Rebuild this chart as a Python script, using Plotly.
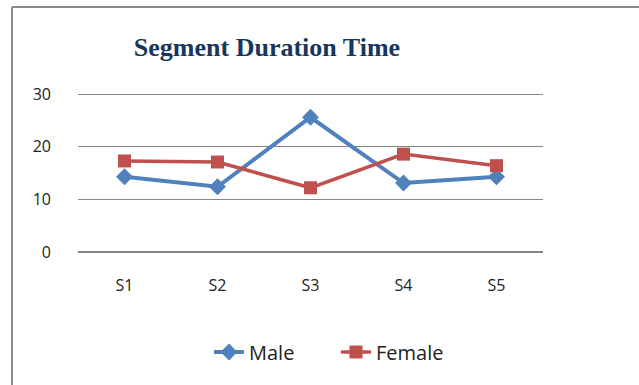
import plotly.graph_objects as go

categories = ["S1", "S2", "S3", "S4", "S5"]
male = [14.3, 12.4, 25.6, 13.1, 14.3]
female = [17.3, 17.1, 12.2, 18.6, 16.4]
y_ticks = [0, 10, 20, 30]

W, H = 639, 385
L, R, T, B = 78, 96, 92, 133
pw, ph = W - L - R, H - T - B

fig = go.Figure()
fig.add_trace(go.Scatter(
    x=categories, y=male, name="Male", mode="lines+markers",
    line=dict(color="#4F81BD", width=4),
    marker=dict(symbol="diamond", size=13, color="#4F81BD"),
))
fig.add_trace(go.Scatter(
    x=categories, y=female, name="Female", mode="lines+markers",
    line=dict(color="#C0504D", width=3.5),
    marker=dict(symbol="square", size=13, color="#C0504D"),
))

def px_x(x):
    return (x - L) / pw

def px_y(y):
    return (H - B - y) / ph

fig.update_layout(
    width=W, height=H,
    margin=dict(l=L, r=R, t=T, b=B, autoexpand=False),
    paper_bgcolor="white", plot_bgcolor="white",
    title=dict(text="<b>Segment Duration Time</b>", xref="paper", x=px_x(267), xanchor="center",
               yref="container", y=1 - 47 / H, yanchor="middle",
               font=dict(family="Liberation Serif", size=26, color="#17365D")),
    xaxis=dict(showgrid=False, showline=False, zeroline=False,
               tickfont=dict(family="Open Sans", size=16, color="#222"),
               ticklabelstandoff=22, range=[-0.5, 4.5]),
    yaxis=dict(range=[0, 30.4], tickvals=y_ticks, showgrid=True, gridcolor="#868686",
               gridwidth=1, zeroline=True, zerolinecolor="#868686", zerolinewidth=2,
               showline=False,
               tickfont=dict(family="Open Sans", size=16, color="#222"),
               ticklabelstandoff=26),
    legend=dict(orientation="h", xref="paper", yref="paper", x=px_x(336), y=px_y(352),
                xanchor="center", yanchor="middle",
                font=dict(family="Open Sans", size=20, color="#222"),
                entrywidth=82,
                bgcolor="rgba(0,0,0,0)"),
    showlegend=True,
    shapes=[
        dict(type="line", xref="paper", yref="paper", x0=px_x(12), x1=px_x(W + 5),
             y0=px_y(7), y1=px_y(7), line=dict(color="#8a8a8a", width=2)),
        dict(type="line", xref="paper", yref="paper", x0=px_x(12), x1=px_x(12),
             y0=px_y(7), y1=px_y(H + 5), line=dict(color="#8a8a8a", width=2)),
    ],
)

fig.write_html("out.html", config={"displayModeBar": False},
               post_script="document.body.style.margin='0';")
